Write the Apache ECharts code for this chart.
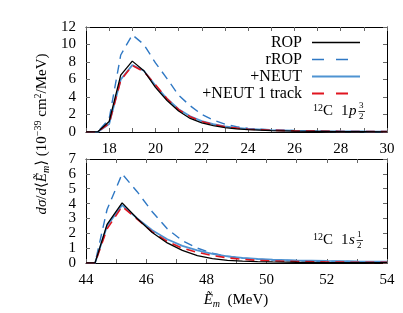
<!DOCTYPE html>
<html><head><meta charset="utf-8">
<script src="https://cdn.jsdelivr.net/npm/echarts@6/dist/echarts.min.js"></script>
<style>html,body{margin:0;padding:0;background:#fff}#c{width:403px;height:313px}</style>
</head><body><div id="c"></div>
<script>
// ---- top panel: 12C 1p3/2 ----
const energyP = [17, 17.5, 18, 18.5, 19, 19.5, 20, 20.5, 21, 21.5, 22, 22.5, 23, 23.5, 24, 25, 26, 27, 28, 29, 30];
const ropP    = [0, 0, 1.2, 6.5, 8.1, 7.0, 5.1, 3.6, 2.4, 1.55, 1.05, 0.72, 0.5, 0.36, 0.26, 0.15, 0.09, 0.06, 0.04, 0.03, 0.02];
const rropP   = [0, 0, 1.5, 8.8, 11.1, 10.0, 7.9, 6.1, 4.2, 3.0, 2.0, 1.35, 0.9, 0.6, 0.42, 0.25, 0.16, 0.11, 0.08, 0.06, 0.05];
const neutP   = [0, 0, 0.9, 6.0, 7.65, 7.0, 5.3, 3.8, 2.6, 1.8, 1.25, 0.9, 0.65, 0.48, 0.36, 0.22, 0.15, 0.1, 0.08, 0.06, 0.05];
const neut1P  = [0, 0, 1.0, 5.9, 7.6, 6.9, 5.4, 3.8, 2.55, 1.75, 1.2, 0.85, 0.6, 0.44, 0.32, 0.2, 0.13, 0.09, 0.06, 0.05, 0.04];
// ---- bottom panel: 12C 1s1/2 ----
const energyS = [44, 44.3, 44.7, 45.2, 45.7, 46.2, 46.7, 47.2, 47.7, 48.2, 48.7, 49.2, 49.7, 50.2, 51, 52, 53, 54];
const ropS    = [0, 0, 2.6, 4.05, 3.0, 2.05, 1.35, 0.85, 0.5, 0.3, 0.18, 0.12, 0.09, 0.07, 0.05, 0.03, 0.02, 0.02];
const rropS   = [0, 0, 3.6, 6.0, 4.8, 3.45, 2.3, 1.5, 1.0, 0.66, 0.45, 0.33, 0.26, 0.2, 0.15, 0.11, 0.09, 0.07];
const neutS   = [0, 0, 2.5, 3.9, 3.0, 2.2, 1.6, 1.15, 0.85, 0.62, 0.45, 0.35, 0.28, 0.23, 0.18, 0.14, 0.11, 0.09];
const neut1S  = [0, 0, 2.3, 3.8, 2.95, 2.1, 1.45, 1.0, 0.72, 0.5, 0.35, 0.25, 0.18, 0.14, 0.1, 0.07, 0.05, 0.04];
const xTicksP = [18, 20, 22, 24, 26, 28, 30];
const xTicksS = [44, 46, 48, 50, 52, 54];
const names = ['ROP', 'rROP', '+NEUT', '+NEUT 1 track'];

const FONT = "'Liberation Serif','DejaVu Serif',serif";
const C_BLACK = '#000000', C_RROP = '#2f78c4', C_NEUT = '#4f93d2', C_RED = '#e0151f';
const zip = (xs, ys) => xs.map((x, i) => [x, ys[i]]);

const chart = echarts.init(document.getElementById('c'), null, {renderer: 'canvas'});

function xAxes(gi, min, max, ticks) {
  const base = {
    type: 'value', gridIndex: gi, min: min, max: max, interval: 1,
    axisLine: {show: true, onZero: false, lineStyle: {color: '#000', width: 1}},
    axisTick: {show: true, inside: true, length: 4, lineStyle: {color: '#666'}},
    splitLine: {show: false}
  };
  return [
    Object.assign({}, base, {position: 'bottom',
      axisLabel: {show: true, margin: 10, color: '#000', fontFamily: FONT, fontSize: 15,
        formatter: v => ticks.indexOf(v) >= 0 ? String(v) : ''}}),
    Object.assign({}, base, {position: 'top', axisLabel: {show: false}})
  ];
}
function yAxes(gi, max, interval) {
  const base = {
    type: 'value', gridIndex: gi, min: 0, max: max, interval: interval,
    axisLine: {show: true, onZero: false, lineStyle: {color: '#000', width: 1}},
    axisTick: {show: true, inside: true, length: 4, lineStyle: {color: '#666'}},
    splitLine: {show: false}
  };
  return [
    Object.assign({}, base, {position: 'left',
      axisLabel: {show: true, margin: 10, color: '#000', fontFamily: FONT, fontSize: 15}}),
    Object.assign({}, base, {position: 'right', axisLabel: {show: false}})
  ];
}

const styles = [
  {color: C_BLACK, width: 1.3, type: 'solid'},
  {color: C_RROP, width: 1.4, type: [9, 6]},
  {color: C_NEUT, width: 1.8, type: 'solid'},
  {color: C_RED, width: 1.6, type: [9, 6]}
];
function mkSeries(gi, xs, data) {
  const order = [0, 3, 2, 1];
  return order.map(k => ({
    name: names[k], type: 'line', xAxisIndex: gi * 2, yAxisIndex: gi * 2,
    data: zip(xs, data[k]), symbol: 'none', showSymbol: false, smooth: false,
    lineStyle: styles[k], itemStyle: {color: styles[k].color}, z: k === 0 ? 5 : 3 + k * 0.1,
    animation: false
  }));
}

chart.setOption({
  animation: false,
  backgroundColor: '#fff',
  grid: [
    {left: 86, top: 27, width: 301, height: 105},
    {left: 86, top: 159, width: 301, height: 104}
  ],
  xAxis: [...xAxes(0, 17, 30, xTicksP), ...xAxes(1, 44, 54, xTicksS)],
  yAxis: [...yAxes(0, 12, 2), ...yAxes(1, 7, 1)],
  legend: {
    data: names.map((n, k) => ({name: n, lineStyle: {
      color: styles[k].color, width: styles[k].width + 0.2,
      type: styles[k].type === 'solid' ? 'solid' : [12, 12]}})),
    orient: 'vertical', right: 37, top: 29, align: 'right',
    itemWidth: 48, itemHeight: 12, itemGap: 0,
    itemStyle: {opacity: 0},
    textStyle: {fontFamily: FONT, fontSize: 16, lineHeight: 17, color: '#000', padding: [0, 5, 0, 0]}
  },
  series: [
    ...mkSeries(0, energyP, [ropP, rropP, neutP, neut1P]),
    ...mkSeries(1, energyS, [ropS, rropS, neutS, neut1S])
  ],
  graphic: [
    // y-axis title
    {type: 'text', x: 42, y: 134, rotation: Math.PI / 2, style: {
      text: '{i|dσ}/{i|d}⟨{i|Ẽ}{sub|m}⟩ (10{sup|−39} cm{sup|2}/MeV)',
      font: '15px ' + FONT, fill: '#000', align: 'center', verticalAlign: 'middle',
      rich: {
        i: {fontFamily: FONT, fontSize: 15, fontStyle: 'italic', lineHeight: 18},
        sub: {fontFamily: FONT, fontSize: 10, fontStyle: 'italic', verticalAlign: 'bottom', lineHeight: 10},
        sup: {fontFamily: FONT, fontSize: 10, verticalAlign: 'top', lineHeight: 10}
      }
    }},
    // x-axis title
    {type: 'text', x: 236, y: 300, style: {
      text: '{i|Ẽ}{sub|m}  (MeV)', font: '15px ' + FONT, fill: '#000', align: 'center', verticalAlign: 'middle',
      rich: {
        i: {fontFamily: FONT, fontSize: 15, fontStyle: 'italic', lineHeight: 18},
        sub: {fontFamily: FONT, fontSize: 10, fontStyle: 'italic', verticalAlign: 'bottom', lineHeight: 10}
      }
    }},
    // 12C 1p 3/2
    {type: 'text', x: 313, y: 103, style: {text: '12', font: '10px ' + FONT, fill: '#000'}},
    {type: 'text', x: 323, y: 104, style: {text: 'C', font: '15px ' + FONT, fill: '#000'}},
    {type: 'text', x: 341, y: 104, style: {text: '1', font: '15px ' + FONT, fill: '#000'}},
    {type: 'text', x: 349, y: 104, style: {text: 'p', font: 'italic 15px ' + FONT, fill: '#000'}},
    {type: 'text', x: 359, y: 101, style: {text: '3', font: '9px ' + FONT, fill: '#000'}},
    {type: 'line', shape: {x1: 358.5, y1: 111.5, x2: 365, y2: 111.5}, style: {stroke: '#000', lineWidth: 0.8}},
    {type: 'text', x: 359, y: 112, style: {text: '2', font: '9px ' + FONT, fill: '#000'}},
    // 12C 1s 1/2
    {type: 'text', x: 313, y: 232, style: {text: '12', font: '10px ' + FONT, fill: '#000'}},
    {type: 'text', x: 323, y: 233, style: {text: 'C', font: '15px ' + FONT, fill: '#000'}},
    {type: 'text', x: 341, y: 233, style: {text: '1', font: '15px ' + FONT, fill: '#000'}},
    {type: 'text', x: 349, y: 233, style: {text: 's', font: 'italic 15px ' + FONT, fill: '#000'}},
    {type: 'text', x: 357, y: 230, style: {text: '1', font: '9px ' + FONT, fill: '#000'}},
    {type: 'line', shape: {x1: 356.5, y1: 240.5, x2: 363, y2: 240.5}, style: {stroke: '#000', lineWidth: 0.8}},
    {type: 'text', x: 357, y: 241, style: {text: '2', font: '9px ' + FONT, fill: '#000'}}
  ]
});
</script>
</body></html>
